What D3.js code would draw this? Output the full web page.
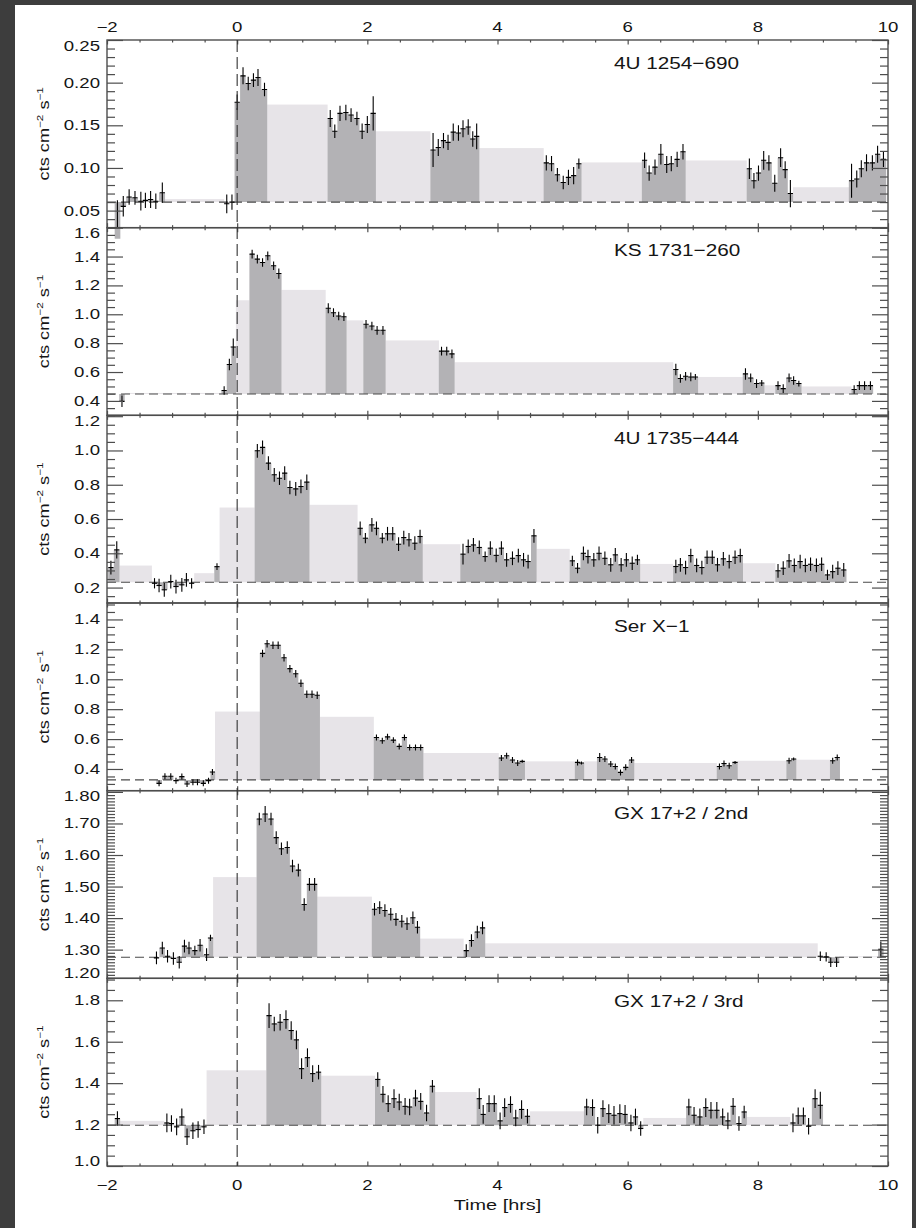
<!DOCTYPE html>
<html>
<head>
<meta charset="utf-8">
<script src="https://cdn.jsdelivr.net/npm/d3@7"></script>
<style>
  body { margin: 0; background: #3d3d3d; }
  svg { display: block; }
  text { font-family: "Liberation Sans", Arial, Helvetica, sans-serif; fill: #151515; }
</style>
</head>
<body>
<div id="container"></div>
<script>
/* CONSTANTS AND GLOBALS */
const width = 916,
  height = 1228,
  plotLeft = 107,
  plotRight = 888,
  plotTop = 40,
  plotBottom = 1166,
  binHalf = 0.042;

const darkFill = "#b3b2b5",
  lightFill = "#e7e4e8",
  axisColor = "#4d4d4d";

/* DATA */
const panelNames = ["4U 1254\u2212690", "KS 1731\u2212260", "4U 1735\u2212444", "Ser X\u22121", "GX 17+2 / 2nd", "GX 17+2 / 3rd"];
const yDomains = [[0.03, 0.25], [0.3, 1.6], [0.11, 1.205], [0.255, 1.51], [1.209, 1.804], [1.0, 1.906]];
const baselines = [0.06, 0.448, 0.231, 0.327, 1.276, 1.197];
const yTickLabels = [
  ["0.05", "0.10", "0.15", "0.20", "0.25"],
  ["0.4", "0.6", "0.8", "1.0", "1.2", "1.4", "1.6"],
  ["0.2", "0.4", "0.6", "0.8", "1.0", "1.2"],
  ["0.4", "0.6", "0.8", "1.0", "1.2", "1.4"],
  ["1.20", "1.30", "1.40", "1.50", "1.60", "1.70", "1.80"],
  ["1.0", "1.2", "1.4", "1.6", "1.8"]
];
const yMinorSteps = [0.01, 0.05, 0.05, 0.05, 0.01, 0.05];
const xTickLabels = ["\u22122", "0", "2", "4", "6", "8", "10"];
const xDomain = [-2, 10];

// [time (hrs), flux, error]
const points1 = [
  [-1.84, 0.017, 0.045], [-1.75, 0.055, 0.012], [-1.66, 0.066, 0.009], [-1.57, 0.065, 0.008],
  [-1.48, 0.061, 0.011], [-1.41, 0.062, 0.009], [-1.33, 0.063, 0.010], [-1.25, 0.061, 0.009],
  [-1.15, 0.071, 0.012], [-0.16, 0.058, 0.011], [-0.08, 0.060, 0.009],
  [0.00, 0.177, 0.009], [0.09, 0.208, 0.010], [0.17, 0.199, 0.008], [0.25, 0.203, 0.008],
  [0.32, 0.206, 0.010], [0.42, 0.192, 0.008],
  [1.43, 0.158, 0.010], [1.50, 0.143, 0.008], [1.58, 0.164, 0.009], [1.67, 0.165, 0.009],
  [1.75, 0.162, 0.008], [1.84, 0.158, 0.008], [1.92, 0.143, 0.009], [2.00, 0.151, 0.010],
  [2.09, 0.164, 0.020],
  [3.01, 0.121, 0.020], [3.09, 0.124, 0.010], [3.17, 0.132, 0.009], [3.24, 0.130, 0.009],
  [3.32, 0.142, 0.010], [3.40, 0.141, 0.009], [3.47, 0.146, 0.010], [3.55, 0.148, 0.009],
  [3.62, 0.134, 0.009], [3.68, 0.137, 0.015],
  [4.75, 0.106, 0.009], [4.83, 0.105, 0.009], [4.92, 0.092, 0.008], [5.01, 0.083, 0.008],
  [5.09, 0.089, 0.009], [5.17, 0.091, 0.010], [5.25, 0.105, 0.006],
  [6.26, 0.109, 0.009], [6.33, 0.094, 0.009], [6.42, 0.101, 0.009], [6.51, 0.116, 0.012],
  [6.60, 0.104, 0.010], [6.67, 0.105, 0.009], [6.76, 0.110, 0.009], [6.85, 0.119, 0.009],
  [7.87, 0.099, 0.012], [7.94, 0.085, 0.009], [8.01, 0.094, 0.009], [8.09, 0.109, 0.011],
  [8.17, 0.106, 0.009], [8.26, 0.082, 0.010], [8.35, 0.112, 0.011], [8.42, 0.098, 0.010],
  [8.50, 0.070, 0.016],
  [9.44, 0.085, 0.020], [9.52, 0.087, 0.010], [9.59, 0.099, 0.010], [9.67, 0.106, 0.010],
  [9.76, 0.106, 0.009], [9.84, 0.116, 0.010], [9.93, 0.110, 0.009]
];
const points2 = [
  [-1.77, 0.397, 0.04], [-0.20, 0.472, 0.03], [-0.12, 0.652, 0.04], [-0.06, 0.773, 0.06],
  [0.23, 1.417, 0.03], [0.31, 1.382, 0.03], [0.39, 1.359, 0.03], [0.47, 1.405, 0.03],
  [0.56, 1.336, 0.03], [0.64, 1.282, 0.035],
  [1.40, 1.042, 0.035], [1.48, 1.011, 0.03], [1.56, 0.988, 0.03], [1.64, 0.983, 0.03],
  [1.98, 0.931, 0.03], [2.07, 0.919, 0.03], [2.15, 0.889, 0.03], [2.24, 0.889, 0.03],
  [3.14, 0.745, 0.03], [3.22, 0.745, 0.03], [3.30, 0.726, 0.03],
  [6.74, 0.618, 0.04], [6.81, 0.555, 0.03], [6.89, 0.571, 0.03], [6.97, 0.566, 0.03], [7.04, 0.566, 0.02],
  [7.81, 0.587, 0.04], [7.89, 0.559, 0.03], [7.98, 0.520, 0.03], [8.06, 0.524, 0.02],
  [8.31, 0.506, 0.03], [8.39, 0.485, 0.03], [8.48, 0.559, 0.03], [8.55, 0.541, 0.03], [8.63, 0.520, 0.02],
  [9.48, 0.479, 0.03], [9.56, 0.506, 0.03], [9.64, 0.506, 0.03], [9.73, 0.506, 0.03]
];
const points3 = [
  [-1.94, 0.317, 0.04], [-1.85, 0.420, 0.05],
  [-1.27, 0.225, 0.03], [-1.20, 0.212, 0.04], [-1.12, 0.187, 0.04], [-1.02, 0.235, 0.04],
  [-0.94, 0.206, 0.04], [-0.85, 0.216, 0.04], [-0.78, 0.245, 0.04], [-0.70, 0.225, 0.03],
  [-0.31, 0.322, 0.02],
  [0.31, 0.998, 0.04], [0.39, 1.018, 0.04], [0.48, 0.926, 0.04], [0.57, 0.858, 0.04],
  [0.65, 0.838, 0.04], [0.73, 0.868, 0.04], [0.81, 0.784, 0.04], [0.90, 0.776, 0.04],
  [0.98, 0.790, 0.04], [1.07, 0.815, 0.045],
  [1.89, 0.546, 0.04], [1.97, 0.488, 0.03], [2.07, 0.566, 0.04], [2.14, 0.546, 0.04],
  [2.23, 0.488, 0.03], [2.31, 0.514, 0.04], [2.39, 0.514, 0.04], [2.48, 0.453, 0.04],
  [2.56, 0.492, 0.04], [2.64, 0.479, 0.04], [2.73, 0.459, 0.04], [2.81, 0.498, 0.04],
  [3.47, 0.395, 0.06], [3.55, 0.440, 0.04], [3.63, 0.449, 0.04], [3.72, 0.434, 0.04],
  [3.81, 0.381, 0.03], [3.89, 0.430, 0.04], [3.98, 0.388, 0.04], [4.06, 0.430, 0.04],
  [4.14, 0.362, 0.04], [4.23, 0.371, 0.04], [4.32, 0.387, 0.04], [4.40, 0.362, 0.04],
  [4.47, 0.352, 0.04], [4.56, 0.502, 0.04],
  [5.15, 0.356, 0.03], [5.23, 0.313, 0.03], [5.32, 0.400, 0.04], [5.39, 0.381, 0.04],
  [5.48, 0.362, 0.04], [5.56, 0.400, 0.04], [5.65, 0.371, 0.04], [5.74, 0.333, 0.04],
  [5.81, 0.391, 0.04], [5.90, 0.333, 0.04], [5.98, 0.362, 0.04], [6.07, 0.342, 0.04],
  [6.15, 0.362, 0.03],
  [6.74, 0.323, 0.04], [6.81, 0.333, 0.04], [6.89, 0.317, 0.04], [6.97, 0.387, 0.04],
  [7.06, 0.329, 0.04], [7.14, 0.317, 0.04], [7.22, 0.377, 0.04], [7.30, 0.377, 0.04],
  [7.38, 0.333, 0.04], [7.47, 0.368, 0.04], [7.56, 0.352, 0.04], [7.65, 0.377, 0.04],
  [7.73, 0.387, 0.04],
  [8.31, 0.298, 0.04], [8.39, 0.313, 0.04], [8.48, 0.356, 0.04], [8.56, 0.329, 0.04],
  [8.65, 0.352, 0.04], [8.73, 0.329, 0.04], [8.81, 0.336, 0.04], [8.90, 0.329, 0.04],
  [8.98, 0.336, 0.04], [9.07, 0.274, 0.03], [9.15, 0.293, 0.04], [9.23, 0.313, 0.04],
  [9.32, 0.303, 0.04]
];
const points4 = [
  [-1.20, 0.304, 0.02], [-1.11, 0.351, 0.02], [-1.02, 0.351, 0.02], [-0.94, 0.322, 0.02],
  [-0.85, 0.349, 0.02], [-0.77, 0.300, 0.02], [-0.68, 0.311, 0.02], [-0.61, 0.311, 0.02],
  [-0.52, 0.304, 0.02], [-0.44, 0.322, 0.02], [-0.38, 0.380, 0.02],
  [0.39, 1.173, 0.025], [0.46, 1.237, 0.025], [0.55, 1.227, 0.025], [0.63, 1.227, 0.025],
  [0.72, 1.144, 0.025], [0.81, 1.071, 0.025], [0.90, 1.037, 0.025], [0.98, 0.973, 0.025],
  [1.07, 0.900, 0.025], [1.15, 0.900, 0.025], [1.23, 0.893, 0.025],
  [2.14, 0.611, 0.02], [2.23, 0.589, 0.02], [2.31, 0.615, 0.02], [2.40, 0.593, 0.02],
  [2.49, 0.551, 0.02], [2.57, 0.611, 0.02], [2.65, 0.544, 0.02], [2.74, 0.544, 0.02],
  [2.82, 0.544, 0.02],
  [4.06, 0.473, 0.02], [4.14, 0.489, 0.02], [4.23, 0.460, 0.02], [4.31, 0.440, 0.02],
  [4.38, 0.451, 0.01],
  [5.23, 0.444, 0.02], [5.29, 0.440, 0.01],
  [5.57, 0.477, 0.03], [5.65, 0.467, 0.02], [5.74, 0.433, 0.02], [5.81, 0.417, 0.02],
  [5.89, 0.377, 0.02], [5.97, 0.411, 0.02], [6.06, 0.460, 0.02],
  [7.41, 0.417, 0.02], [7.48, 0.437, 0.02], [7.56, 0.422, 0.02], [7.65, 0.444, 0.01],
  [8.48, 0.455, 0.02], [8.55, 0.467, 0.01],
  [9.15, 0.455, 0.02], [9.22, 0.477, 0.02]
];
const points5 = [
  [-1.24, 1.274, 0.02], [-1.15, 1.305, 0.02], [-1.07, 1.279, 0.02], [-0.98, 1.272, 0.02],
  [-0.89, 1.260, 0.02], [-0.81, 1.311, 0.02], [-0.74, 1.305, 0.02], [-0.65, 1.297, 0.015],
  [-0.57, 1.314, 0.02], [-0.47, 1.284, 0.02], [-0.41, 1.337, 0.01],
  [0.34, 1.714, 0.02], [0.43, 1.730, 0.025], [0.52, 1.714, 0.02], [0.60, 1.655, 0.02],
  [0.68, 1.620, 0.02], [0.77, 1.624, 0.02], [0.85, 1.565, 0.02], [0.94, 1.552, 0.02],
  [1.03, 1.443, 0.02], [1.11, 1.507, 0.02], [1.19, 1.507, 0.02],
  [2.11, 1.428, 0.02], [2.19, 1.433, 0.02], [2.27, 1.424, 0.02], [2.36, 1.412, 0.02],
  [2.44, 1.396, 0.02], [2.53, 1.390, 0.02], [2.61, 1.382, 0.02], [2.70, 1.401, 0.02],
  [2.77, 1.371, 0.02],
  [3.52, 1.297, 0.02], [3.60, 1.329, 0.02], [3.69, 1.356, 0.02], [3.77, 1.369, 0.02],
  [8.96, 1.279, 0.015], [9.05, 1.277, 0.015], [9.12, 1.260, 0.015], [9.21, 1.260, 0.015],
  [9.89, 1.301, 0.025]
];
const points6 = [
  [-1.84, 1.229, 0.035],
  [-1.08, 1.208, 0.045], [-1.01, 1.205, 0.04], [-0.93, 1.189, 0.04], [-0.85, 1.237, 0.04],
  [-0.77, 1.141, 0.04], [-0.68, 1.170, 0.04], [-0.60, 1.176, 0.04], [-0.51, 1.189, 0.035],
  [0.49, 1.726, 0.06], [0.57, 1.686, 0.035], [0.66, 1.694, 0.04], [0.75, 1.707, 0.045],
  [0.83, 1.654, 0.045], [0.91, 1.609, 0.045], [0.99, 1.470, 0.05], [1.08, 1.523, 0.045],
  [1.16, 1.446, 0.04], [1.25, 1.453, 0.035],
  [2.16, 1.418, 0.035], [2.24, 1.346, 0.04], [2.32, 1.301, 0.04], [2.41, 1.325, 0.045],
  [2.49, 1.309, 0.04], [2.58, 1.288, 0.04], [2.65, 1.285, 0.04], [2.74, 1.328, 0.04],
  [2.82, 1.312, 0.04], [2.91, 1.256, 0.04], [3.00, 1.385, 0.03],
  [3.72, 1.325, 0.05], [3.78, 1.249, 0.045], [3.87, 1.301, 0.04], [3.95, 1.301, 0.04],
  [4.04, 1.218, 0.04], [4.11, 1.282, 0.045], [4.20, 1.297, 0.04], [4.28, 1.232, 0.04],
  [4.37, 1.273, 0.045], [4.46, 1.240, 0.035],
  [5.37, 1.285, 0.04], [5.46, 1.282, 0.04], [5.54, 1.197, 0.04], [5.62, 1.277, 0.04],
  [5.71, 1.253, 0.045], [5.79, 1.245, 0.045], [5.88, 1.253, 0.045], [5.96, 1.249, 0.045],
  [6.05, 1.208, 0.04], [6.12, 1.237, 0.04], [6.20, 1.181, 0.035],
  [6.94, 1.285, 0.04], [7.02, 1.245, 0.04], [7.11, 1.237, 0.04], [7.20, 1.282, 0.045],
  [7.28, 1.269, 0.04], [7.37, 1.269, 0.04], [7.46, 1.237, 0.04], [7.54, 1.218, 0.04],
  [7.62, 1.288, 0.04], [7.71, 1.205, 0.035], [7.79, 1.261, 0.03],
  [8.54, 1.208, 0.045], [8.62, 1.242, 0.04], [8.70, 1.242, 0.04], [8.78, 1.192, 0.04],
  [8.88, 1.325, 0.045], [8.96, 1.293, 0.065]
];

// data gaps: [start, end, mean flux]
const gaps1 = [[-1.11, -0.20, 0.0635], [0.46, 1.39, 0.1743], [2.13, 2.97, 0.143], [3.72, 4.71, 0.1233],
  [5.29, 6.22, 0.1065], [6.89, 7.83, 0.1088], [8.54, 9.40, 0.0774]];
const gaps2 = [[-1.73, -0.24, 0.455], [-0.02, 0.19, 1.097], [0.68, 1.36, 1.169], [1.68, 1.94, 0.958],
  [2.28, 3.10, 0.819], [3.34, 6.70, 0.668], [7.08, 7.77, 0.566], [8.10, 8.27, 0.508], [8.67, 9.44, 0.50]];
const gaps3 = [[-1.81, -1.31, 0.3285], [-0.66, -0.35, 0.284], [-0.27, 0.27, 0.667], [1.11, 1.85, 0.683],
  [2.85, 3.43, 0.453], [4.60, 5.11, 0.426], [6.19, 6.70, 0.338], [7.77, 8.27, 0.342]];
const gaps4 = [[-0.34, 0.35, 0.784], [1.27, 2.10, 0.749], [2.86, 4.02, 0.507], [4.42, 5.19, 0.451],
  [5.33, 5.53, 0.451], [6.10, 7.37, 0.44], [7.69, 8.44, 0.455], [8.59, 9.11, 0.462]];
const gaps5 = [[-0.37, 0.30, 1.53], [1.23, 2.07, 1.468], [2.81, 3.48, 1.335], [3.81, 8.92, 1.32],
  [9.25, 9.85, 1.279]];
const gaps6 = [[-1.80, -1.12, 1.218], [-0.47, 0.45, 1.462], [1.29, 2.12, 1.436], [3.04, 3.68, 1.357],
  [4.50, 5.33, 1.264], [6.24, 6.90, 1.232], [7.83, 8.50, 1.237]];

const pointSets = [points1, points2, points3, points4, points5, points6];
const gapSets = [gaps1, gaps2, gaps3, gaps4, gaps5, gaps6];

/* SVG */
const svg = d3.select("#container")
  .append("svg")
  .attr("width", width)
  .attr("height", height);

svg.append("rect").attr("width", width).attr("height", height).attr("fill", "#3d3d3d");
svg.append("rect").attr("x", 15).attr("y", 5).attr("width", 897).attr("height", height - 5).attr("fill", "#fff");

const defs = svg.append("defs");

// wide-looking text like the original plotting package
const addText = (x, y, str, size, anchor, sx) =>
  svg.append("text")
    .attr("transform", `translate(${x},${y}) scale(${sx},1)`)
    .attr("text-anchor", anchor)
    .style("font-size", size + "px")
    .text(str);

// split a light curve into runs of adjacent bins
const toRuns = pts => {
  const runs = [];
  pts.forEach((p, k) => {
    if (k === 0 || p[0] - pts[k - 1][0] > 0.13) runs.push([]);
    runs[runs.length - 1].push(p);
  });
  // pad each run so the step covers the outer half bins
  return runs.map(r => [[r[0][0] - binHalf, r[0][1]], ...r, [r[r.length - 1][0] + binHalf, r[r.length - 1][1]]]);
};

/* SCALES */
const xScale = d3.scaleLinear().domain(xDomain).range([plotLeft, plotRight]);
const panelH = (plotBottom - plotTop) / panelNames.length;
const xMajor = xTickLabels.map(d => +d.replace("\u2212", "-"));
const xMinor = d3.range(xDomain[0], xDomain[1] + 0.001, 0.5).filter(v => !xMajor.includes(v));

panelNames.forEach((name, i) => {
  const top = plotTop + i * panelH,
        bottom = top + panelH;
  const dom = yDomains[i];
  const yScale = d3.scaleLinear().domain(dom).range([bottom, top]);
  const base = baselines[i];
  const g = svg.append("g");

  defs.append("clipPath").attr("id", "clip" + i)
    .append("rect")
    .attr("x", plotLeft).attr("y", top)
    .attr("width", plotRight - plotLeft).attr("height", panelH);

  // gaps: mean flux between observations
  g.selectAll(".gap")
    .data(gapSets[i])
    .join("rect")
    .attr("class", "gap")
    .attr("x", d => xScale(d[0]))
    .attr("width", d => xScale(d[1]) - xScale(d[0]))
    .attr("y", d => yScale(Math.max(d[2], base)))
    .attr("height", d => Math.abs(yScale(d[2]) - yScale(base)))
    .attr("fill", lightFill);

  // observed bins as step areas
  const area = d3.area()
    .x(d => xScale(d[0]))
    .y0(yScale(base))
    .y1(d => yScale(d[1]))
    .curve(d3.curveStep);
  g.selectAll(".run")
    .data(toRuns(pointSets[i]))
    .join("path")
    .attr("class", "run")
    .attr("d", area)
    .attr("fill", darkFill);

  // baseline
  g.append("line")
    .attr("x1", plotLeft).attr("x2", plotRight)
    .attr("y1", yScale(base)).attr("y2", yScale(base))
    .attr("stroke", "#4a4a4a")
    .attr("stroke-width", 1.1)
    .attr("stroke-dasharray", "9,5");

  // error crosses
  const eb = g.append("g").attr("clip-path", `url(#clip${i})`)
    .attr("stroke", "#000").attr("stroke-width", 1.1);
  eb.selectAll(".ev")
    .data(pointSets[i])
    .join("line")
    .attr("x1", d => xScale(d[0])).attr("x2", d => xScale(d[0]))
    .attr("y1", d => yScale(d[1] - d[2])).attr("y2", d => yScale(d[1] + d[2]));
  eb.selectAll(".eh")
    .data(pointSets[i])
    .join("line")
    .attr("x1", d => xScale(d[0] - 0.04)).attr("x2", d => xScale(d[0] + 0.04))
    .attr("y1", d => yScale(d[1])).attr("y2", d => yScale(d[1]));

  // y ticks (inward, both sides)
  const yMajor = yTickLabels[i].map(Number).filter(v => v >= dom[0] - 1e-9 && v <= dom[1] + 1e-9);
  const step = yMinorSteps[i];
  const yMinor = d3.range(Math.ceil(dom[0] / step - 1e-6), Math.floor(dom[1] / step + 1e-6) + 1)
    .map(k => +(k * step).toFixed(4))
    .filter(v => !yMajor.some(m => Math.abs(m - v) < 1e-6));

  const drawY = (vals, len) => {
    g.append("g").attr("transform", `translate(${plotLeft},0)`)
      .call(d3.axisRight(yScale).tickValues(vals).tickSize(len).tickFormat("").tickSizeOuter(0));
    g.append("g").attr("transform", `translate(${plotRight},0)`)
      .call(d3.axisLeft(yScale).tickValues(vals).tickSize(len).tickFormat("").tickSizeOuter(0));
  };
  drawY(yMajor, 16);
  drawY(yMinor, 8);

  // x ticks (inward, top and bottom)
  const drawX = (vals, len) => {
    g.append("g").attr("transform", `translate(0,${top})`)
      .call(d3.axisBottom(xScale).tickValues(vals).tickSize(len).tickFormat("").tickSizeOuter(0));
    g.append("g").attr("transform", `translate(0,${bottom})`)
      .call(d3.axisTop(xScale).tickValues(vals).tickSize(len).tickFormat("").tickSizeOuter(0));
  };
  drawX(xMajor, 4.5);
  drawX(xMinor, 2.5);

  g.selectAll(".domain").remove();
  g.selectAll(".tick line").attr("stroke", axisColor).attr("stroke-width", 1.2);

  // frame
  g.append("rect")
    .attr("x", plotLeft).attr("y", top)
    .attr("width", plotRight - plotLeft).attr("height", panelH)
    .attr("fill", "none").attr("stroke", axisColor).attr("stroke-width", 1.4);

  // y tick labels, kept inside the panel
  yTickLabels[i].forEach(lbl => {
    const yy = Math.min(Math.max(yScale(+lbl), top + 5.5), bottom - 5);
    addText(100, yy + 5, lbl, 14, "end", 1.33);
  });

  // source name
  addText(614, top + 28.5, name, 17, "start", 1.22);

  // y axis label
  const yl = svg.append("text")
    .attr("transform", `translate(48.5,${(top + bottom) / 2}) rotate(-90) scale(1.3,1)`)
    .attr("text-anchor", "middle")
    .style("font-size", "14px");
  yl.append("tspan").text("cts cm");
  yl.append("tspan").attr("dy", -5.5).style("font-size", "9px").text("\u22122");
  yl.append("tspan").attr("dy", 5.5).text(" s");
  yl.append("tspan").attr("dy", -5.5).style("font-size", "9px").text("\u22121");
});

// t = 0 marker
svg.append("line")
  .attr("x1", xScale(0)).attr("x2", xScale(0))
  .attr("y1", plotTop).attr("y2", plotBottom)
  .attr("stroke", "#333")
  .attr("stroke-width", 1.1)
  .attr("stroke-dasharray", "12,5");

// x tick labels top and bottom
xTickLabels.forEach(lbl => {
  const xx = xScale(+lbl.replace("\u2212", "-"));
  addText(xx, 31.7, lbl, 14, "middle", 1.33);
  addText(xx, 1190, lbl, 14, "middle", 1.33);
});

addText((plotLeft + plotRight) / 2, 1210, "Time [hrs]", 14, "middle", 1.42);
</script>
</body>
</html>
